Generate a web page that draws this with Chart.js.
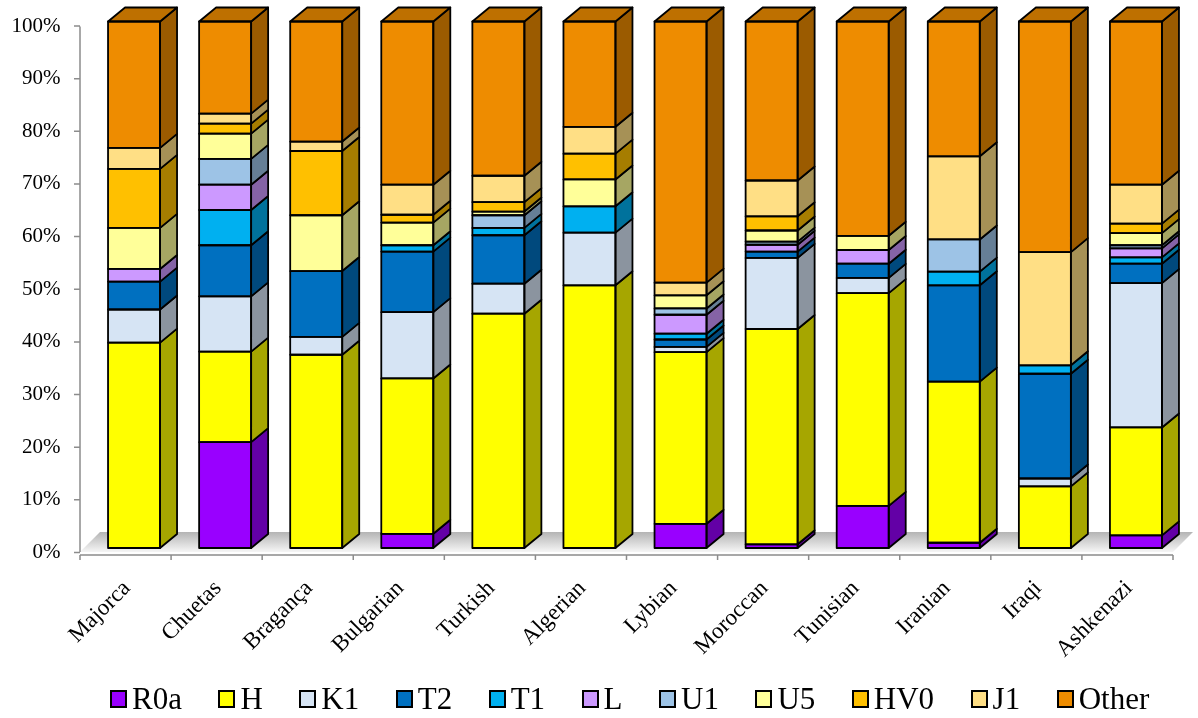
<!DOCTYPE html>
<html>
<head>
<meta charset="utf-8">
<script src="https://cdn.jsdelivr.net/npm/chart.js@4"></script>
<style>
  body { margin: 0; background: #fff; }
  #wrap { position: relative; width: 1198px; height: 718px; }
  #legend { position: absolute; left: 110px; top: 684px; display: flex; align-items: center;
            font-family: "Liberation Serif", "Times New Roman", serif; font-size: 31px; line-height: 30px; }
  #legend .item { display: flex; align-items: center; margin-right: 36.5px; }
  #legend .box { width: 13px; height: 14px; border: 2px solid #000; margin-right: 5px; }
</style>
</head>
<body>
<div id="wrap">
  <canvas id="chart"></canvas>
  <div id="legend"></div>
</div>
<script>
const categories = ['Majorca', 'Chuetas', 'Bragança', 'Bulgarian', 'Turkish', 'Algerian',
                    'Lybian', 'Moroccan', 'Tunisian', 'Iranian', 'Iraqi', 'Ashkenazi'];

const r0a   = [0, 20.1, 0, 2.7, 0, 0, 4.6, 0.7, 8.0, 1.0, 0, 2.4];
const h     = [39.0, 17.2, 36.7, 29.5, 44.5, 49.9, 32.6, 40.9, 40.4, 30.6, 11.7, 20.5];
const k1    = [6.3, 10.5, 3.4, 12.6, 5.7, 10.0, 1.0, 13.5, 2.9, 0, 1.5, 27.4];
const t2    = [5.3, 9.7, 12.5, 11.5, 9.2, 0, 1.4, 1.2, 2.7, 18.3, 19.9, 3.7];
const t1    = [0, 6.7, 0, 1.2, 1.4, 5.0, 1.1, 0, 0, 2.6, 1.6, 1.2];
const l     = [2.4, 4.8, 0, 0, 0, 0, 3.6, 1.3, 2.6, 0, 0, 1.7];
const u1    = [0, 4.9, 0, 0, 2.4, 0, 1.2, 0.6, 0, 6.1, 0, 0.6];
const u5    = [7.8, 4.8, 10.6, 4.3, 0.7, 5.1, 2.5, 2.1, 2.7, 0, 0, 2.3];
const hv0   = [11.2, 1.9, 12.2, 1.5, 1.8, 4.9, 0, 2.7, 0, 0, 0, 1.8];
const j1    = [4.0, 1.9, 1.8, 5.7, 5.0, 5.1, 2.4, 6.8, 0, 15.8, 21.5, 7.4];
const other = [24.0, 17.5, 22.8, 31.0, 29.3, 20.0, 49.6, 30.2, 40.7, 25.6, 43.8, 31.0];

const seriesNames = ['R0a', 'H', 'K1', 'T2', 'T1', 'L', 'U1', 'U5', 'HV0', 'J1', 'Other'];
const seriesData = [r0a, h, k1, t2, t1, l, u1, u5, hv0, j1, other];
const colors = ['#9900FF', '#FFFF00', '#D6E4F4', '#0070C0', '#00B0F0', '#CC99FF',
                '#9DC3E6', '#FFFF99', '#FFC000', '#FFDF85', '#EE8C00'];

const DX = 17, DY = 14;

function shade(hex, f) {
  const n = parseInt(hex.slice(1), 16);
  const r = Math.round(((n >> 16) & 255) * f);
  const g = Math.round(((n >> 8) & 255) * f);
  const b = Math.round((n & 255) * f);
  return `rgb(${r},${g},${b})`;
}

// floor + axis lines drawn under the bars
const floor3d = {
  id: 'floor3d',
  beforeDatasetsDraw(chart) {
    const ctx = chart.ctx;
    const xs = chart.scales.x, ys = chart.scales.y;
    const x0 = xs.left - 8.5, x1 = xs.right - 8.5;
    const yF = ys.getPixelForValue(0) + 4;
    ctx.save();
    const grad = ctx.createLinearGradient(0, yF - 20, 0, yF);
    grad.addColorStop(0, '#b4b4b4');
    grad.addColorStop(1, '#f6f6f6');
    ctx.beginPath();
    ctx.moveTo(x0, yF);
    ctx.lineTo(x1, yF);
    ctx.lineTo(x1 + 20, yF - 20);
    ctx.lineTo(x0 + 20, yF - 20);
    ctx.closePath();
    ctx.fillStyle = grad;
    ctx.fill();

    ctx.strokeStyle = '#8c8c8c';
    ctx.lineWidth = 1.5;
    // y axis
    ctx.beginPath();
    ctx.moveTo(x0, ys.getPixelForValue(100) + 5);
    ctx.lineTo(x0, yF);
    ys.ticks.forEach(t => {
      const yy = ys.getPixelForValue(t.value) + 4.5;
      ctx.moveTo(x0 - 6, yy);
      ctx.lineTo(x0, yy);
    });
    // x axis
    const yA = yF + 3;
    ctx.moveTo(x0, yA);
    ctx.lineTo(x1, yA);
    const step = (xs.right - xs.left) / categories.length;
    for (let i = 0; i <= categories.length; i++) {
      ctx.moveTo(x0 + i * step, yA);
      ctx.lineTo(x0 + i * step, yA + 5);
    }
    ctx.stroke();
    ctx.restore();
  }
};

// side and top faces
const bars3d = {
  id: 'bars3d',
  afterDatasetsDraw(chart) {
    const ctx = chart.ctx;
    const ds = chart.data.datasets;
    ctx.save();
    ctx.strokeStyle = '#000';
    ctx.lineWidth = 1.8;
    ctx.lineJoin = 'round';
    chart.data.labels.forEach((_, i) => {
      let topIdx = -1;
      ds.forEach((d, k) => { if (d.data[i] > 0) topIdx = k; });
      ds.forEach((d, k) => {
        if (!(d.data[i] > 0)) return;
        const el = chart.getDatasetMeta(k).data[i];
        const p = el.getProps(['x', 'y', 'base', 'width'], true);
        const left = p.x - p.width / 2, right = p.x + p.width / 2;
        ctx.beginPath();
        ctx.moveTo(right, p.y);
        ctx.lineTo(right + DX, p.y - DY);
        ctx.lineTo(right + DX, p.base - DY);
        ctx.lineTo(right, p.base);
        ctx.closePath();
        ctx.fillStyle = shade(d.backgroundColor, 0.65);
        ctx.fill();
        ctx.stroke();
        if (k === topIdx) {
          ctx.beginPath();
          ctx.moveTo(left, p.y);
          ctx.lineTo(left + DX, p.y - DY);
          ctx.lineTo(right + DX, p.y - DY);
          ctx.lineTo(right, p.y);
          ctx.closePath();
          ctx.fillStyle = shade(d.backgroundColor, 0.8);
          ctx.fill();
          ctx.stroke();
        }
        ctx.strokeRect(left, p.y, p.width, p.base - p.y);
      });
    });
    ctx.restore();
  }
};

const ctx = document.getElementById('chart').getContext('2d');
const chart = new Chart(ctx, {
  type: 'bar',
  data: {
    labels: categories,
    datasets: seriesNames.map((name, k) => ({
      label: name,
      data: seriesData[k],
      backgroundColor: colors[k],
      borderWidth: 0,
      barPercentage: 0.571,
      categoryPercentage: 1
    }))
  },
  options: {
    responsive: true,
    maintainAspectRatio: false,
    animation: false,
    layout: { padding: { top: 21.5, right: 16.5, left: 0, bottom: 0 } },
    plugins: {
      legend: { display: false },
      tooltip: { enabled: false }
    },
    scales: {
      x: {
        stacked: true,
        grid: { display: false, drawTicks: false },
        border: { display: false },
        ticks: {
          minRotation: 45, maxRotation: 45,
          padding: 27,
          labelOffset: -7,
          color: '#000',
          font: { family: 'Liberation Serif', size: 23 }
        },
        afterFit(scale) {
          scale.height = 170;
          scale.paddingLeft = 0; scale.paddingRight = 0;
        }
      },
      y: {
        stacked: true,
        min: 0, max: 100,
        grid: { display: false, drawTicks: false },
        border: { display: false },
        ticks: {
          stepSize: 10,
          padding: 28,
          labelOffset: 4.5,
          color: '#000',
          font: { family: 'Liberation Serif', size: 21 },
          callback: v => v + '%'
        },
        afterFit(scale) {
          scale.width = 88.5;
          scale.paddingTop = 0; scale.paddingBottom = 0;
        }
      }
    }
  },
  plugins: [floor3d, bars3d]
});

// legend in the page, built from the datasets
const legendEl = document.getElementById('legend');
chart.data.datasets.forEach(d => {
  const item = document.createElement('div');
  item.className = 'item';
  const box = document.createElement('span');
  box.className = 'box';
  box.style.background = d.backgroundColor;
  const txt = document.createElement('span');
  txt.textContent = d.label;
  item.appendChild(box);
  item.appendChild(txt);
  legendEl.appendChild(item);
});
</script>
</body>
</html>
